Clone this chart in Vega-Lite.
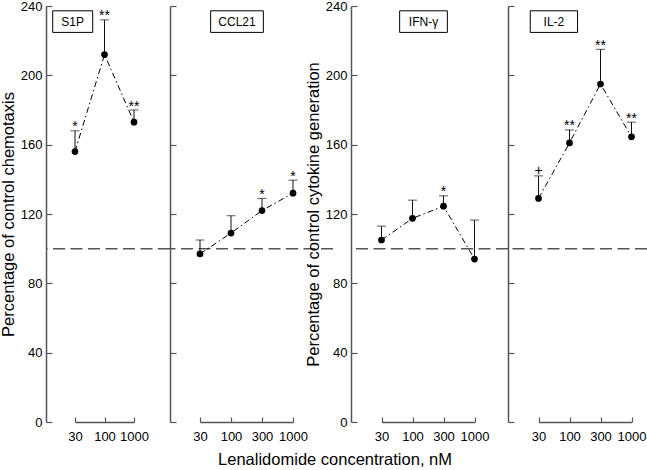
{
  "$schema": "https://vega.github.io/schema/vega-lite/v6.json",
  "padding": {"left": 0, "top": 0, "right": 0, "bottom": 0},
  "config": {
    "font": "Liberation Sans",
    "view": {"stroke": null},
    "axis": {"grid": false, "labelColor": "#000", "titleColor": "#000", "labelFontSize": 13, "titleFontSize": 16.5, "titleFontWeight": "normal", "domainColor": "#555", "tickColor": "#555", "domainWidth": 1.5, "tickWidth": 1.2},
    "axisX": {"tickSize": -5, "labelPadding": 13, "labelAngle": 0},
    "axisY": {"tickSize": -6, "labelPadding": 10, "labelOverlap": "greedy", "labelSeparation": -100, "labelBound": false}
  },
  "title": {"text": "Lenalidomide concentration, nM", "orient": "bottom", "anchor": "middle", "fontSize": 16.5, "fontWeight": "normal", "offset": 9, "dx": 11, "color": "#000"},
  "bounds": "flush",
  "spacing": 0,
  "hconcat": [
    {
      "width": 124, "height": 416,
      "data": {"values": [
        {"conc": 30, "mean": 156, "upper": 168, "sig": "*"},
        {"conc": 100, "mean": 212, "upper": 232, "sig": "**"},
        {"conc": 1000, "mean": 173, "upper": 180, "sig": "**"}
      ]},
      "layer": [
        {"data": {"values": [{"ref": 100}]}, "mark": {"type": "rule", "strokeDash": [12, 5.5], "color": "#555", "strokeWidth": 1.5},
         "encoding": {"y": {"field": "ref", "type": "quantitative", "title": "Percentage of control chemotaxis", "scale": {"domain": [0, 240]}, "axis": {"labelOverlap": "greedy", "labelSeparation": -100, "values": [0, 20, 40, 60, 80, 100, 120, 140, 160, 180, 200, 220, 240]}}}},
        {"mark": {"type": "line", "color": "#000", "strokeWidth": 1, "strokeDash": [6, 3, 1.5, 3]},
         "encoding": {
           "x": {"field": "conc", "type": "ordinal", "title": null, "scale": {"type": "point", "padding": 0, "domain": [30, 100, 1000], "range": [29, 88]}},
           "y": {"field": "mean", "type": "quantitative", "title": "Percentage of control chemotaxis", "scale": {"domain": [0, 240]}, "axis": {"labelOverlap": "greedy", "labelSeparation": -100, "values": [0, 20, 40, 60, 80, 100, 120, 140, 160, 180, 200, 220, 240]}}}},
        {"mark": {"type": "rule", "color": "#111", "strokeWidth": 1},
         "encoding": {"x": {"field": "conc", "type": "ordinal", "title": null, "scale": {"type": "point", "padding": 0, "domain": [30, 100, 1000], "range": [29, 88]}}, "y": {"field": "mean", "type": "quantitative", "title": "Percentage of control chemotaxis"}, "y2": {"field": "upper"}}},
        {"mark": {"type": "tick", "color": "#111", "size": 9, "thickness": 1},
         "encoding": {"x": {"field": "conc", "type": "ordinal", "title": null, "scale": {"type": "point", "padding": 0, "domain": [30, 100, 1000], "range": [29, 88]}}, "y": {"field": "upper", "type": "quantitative", "title": "Percentage of control chemotaxis"}}},
        {"mark": {"type": "circle", "color": "#000", "opacity": 1, "size": 45},
         "encoding": {"x": {"field": "conc", "type": "ordinal", "title": null, "scale": {"type": "point", "padding": 0, "domain": [30, 100, 1000], "range": [29, 88]}}, "y": {"field": "mean", "type": "quantitative", "title": "Percentage of control chemotaxis"}}},
        {"transform": [{"filter": "indexof(datum.sig, '*') >= 0"}],
         "mark": {"type": "text", "fontSize": 14, "dy": 0.5, "baseline": "alphabetic", "color": "#000"},
         "encoding": {"x": {"field": "conc", "type": "ordinal", "title": null, "scale": {"type": "point", "padding": 0, "domain": [30, 100, 1000], "range": [29, 88]}}, "y": {"field": "upper", "type": "quantitative", "title": "Percentage of control chemotaxis"}, "text": {"field": "sig"}}},
        {"data": {"values": [{"label": "S1P"}]},
         "mark": {"type": "point", "shape": "M-1,-0.54H1V0.54H-1Z", "size": 1600, "filled": false, "color": "#000", "strokeWidth": 1, "opacity": 1, "xOffset": -2.3},
         "encoding": {"x": {"datum": 30, "type": "ordinal", "title": null, "scale": {"type": "point", "padding": 0, "domain": [30, 100, 1000], "range": [29, 88]}}, "y": {"datum": 231, "type": "quantitative", "title": "Percentage of control chemotaxis"}}},
        {"data": {"values": [{"label": "S1P"}]},
         "mark": {"type": "text", "fontSize": 12, "baseline": "middle", "align": "center", "color": "#000", "xOffset": -2.3},
         "encoding": {"x": {"datum": 30, "type": "ordinal", "title": null, "scale": {"type": "point", "padding": 0, "domain": [30, 100, 1000], "range": [29, 88]}}, "y": {"datum": 231, "type": "quantitative", "title": "Percentage of control chemotaxis"}, "text": {"field": "label"}}}
      ]
    },
    {
      "width": 163, "height": 416,
      "data": {"values": [
        {"conc": 30, "mean": 97, "upper": 105, "sig": ""},
        {"conc": 100, "mean": 109, "upper": 119, "sig": ""},
        {"conc": 300, "mean": 122, "upper": 129, "sig": "*"},
        {"conc": 1000, "mean": 132, "upper": 139.5, "sig": "*"}
      ]},
      "layer": [
        {"data": {"values": [{"ref": 100}]}, "mark": {"type": "rule", "strokeDash": [12, 5.5], "color": "#555", "strokeWidth": 1.5},
         "encoding": {"y": {"field": "ref", "type": "quantitative", "title": null, "scale": {"domain": [0, 240]}, "axis": {"labels": false, "values": [0, 20, 40, 60, 80, 100, 120, 140, 160, 180, 200, 220, 240]}}}},
        {"mark": {"type": "line", "color": "#000", "strokeWidth": 1, "strokeDash": [6, 3, 1.5, 3]},
         "encoding": {
           "x": {"field": "conc", "type": "ordinal", "title": null, "scale": {"type": "point", "padding": 0, "domain": [30, 100, 300, 1000], "range": [30, 123]}},
           "y": {"field": "mean", "type": "quantitative", "title": null, "scale": {"domain": [0, 240]}, "axis": {"labels": false, "values": [0, 20, 40, 60, 80, 100, 120, 140, 160, 180, 200, 220, 240]}}}},
        {"mark": {"type": "rule", "color": "#111", "strokeWidth": 1},
         "encoding": {"x": {"field": "conc", "type": "ordinal", "title": null, "scale": {"type": "point", "padding": 0, "domain": [30, 100, 300, 1000], "range": [30, 123]}}, "y": {"field": "mean", "type": "quantitative", "title": null}, "y2": {"field": "upper"}}},
        {"mark": {"type": "tick", "color": "#111", "size": 9, "thickness": 1},
         "encoding": {"x": {"field": "conc", "type": "ordinal", "title": null, "scale": {"type": "point", "padding": 0, "domain": [30, 100, 300, 1000], "range": [30, 123]}}, "y": {"field": "upper", "type": "quantitative", "title": null}}},
        {"mark": {"type": "circle", "color": "#000", "opacity": 1, "size": 45},
         "encoding": {"x": {"field": "conc", "type": "ordinal", "title": null, "scale": {"type": "point", "padding": 0, "domain": [30, 100, 300, 1000], "range": [30, 123]}}, "y": {"field": "mean", "type": "quantitative", "title": null}}},
        {"transform": [{"filter": "indexof(datum.sig, '*') >= 0"}],
         "mark": {"type": "text", "fontSize": 14, "dy": 0.5, "baseline": "alphabetic", "color": "#000"},
         "encoding": {"x": {"field": "conc", "type": "ordinal", "title": null, "scale": {"type": "point", "padding": 0, "domain": [30, 100, 300, 1000], "range": [30, 123]}}, "y": {"field": "upper", "type": "quantitative", "title": null}, "text": {"field": "sig"}}},
        {"data": {"values": [{"label": "CCL21"}]},
         "mark": {"type": "point", "shape": "M-1,-0.41H1V0.41H-1Z", "size": 2777, "filled": false, "color": "#000", "strokeWidth": 1, "opacity": 1, "xOffset": 6},
         "encoding": {"x": {"datum": 100, "type": "ordinal", "title": null, "scale": {"type": "point", "padding": 0, "domain": [30, 100, 300, 1000], "range": [30, 123]}}, "y": {"datum": 231, "type": "quantitative", "title": null}}},
        {"data": {"values": [{"label": "CCL21"}]},
         "mark": {"type": "text", "fontSize": 12, "baseline": "middle", "align": "center", "color": "#000", "xOffset": 6},
         "encoding": {"x": {"datum": 100, "type": "ordinal", "title": null, "scale": {"type": "point", "padding": 0, "domain": [30, 100, 300, 1000], "range": [30, 123]}}, "y": {"datum": 231, "type": "quantitative", "title": null}, "text": {"field": "label"}}}
      ]
    },
    {
      "width": 18, "height": 416,
      "data": {"values": []},
      "mark": "point"
    },
    {
      "width": 157, "height": 416,
      "data": {"values": [
        {"conc": 30, "mean": 105, "upper": 113, "sig": ""},
        {"conc": 100, "mean": 117.5, "upper": 128, "sig": ""},
        {"conc": 300, "mean": 124.5, "upper": 130.5, "sig": "*"},
        {"conc": 1000, "mean": 94, "upper": 116.5, "sig": ""}
      ]},
      "layer": [
        {"data": {"values": [{"ref": 100}]}, "mark": {"type": "rule", "strokeDash": [12, 5.5], "color": "#555", "strokeWidth": 1.5},
         "encoding": {"y": {"field": "ref", "type": "quantitative", "title": "Percentage of control cytokine generation", "scale": {"domain": [0, 240]}, "axis": {"labelOverlap": "greedy", "labelSeparation": -100, "values": [0, 20, 40, 60, 80, 100, 120, 140, 160, 180, 200, 220, 240]}}}},
        {"mark": {"type": "line", "color": "#000", "strokeWidth": 1, "strokeDash": [6, 3, 1.5, 3]},
         "encoding": {
           "x": {"field": "conc", "type": "ordinal", "title": null, "scale": {"type": "point", "padding": 0, "domain": [30, 100, 300, 1000], "range": [30.5, 123.5]}},
           "y": {"field": "mean", "type": "quantitative", "title": "Percentage of control cytokine generation", "scale": {"domain": [0, 240]}, "axis": {"labelOverlap": "greedy", "labelSeparation": -100, "values": [0, 20, 40, 60, 80, 100, 120, 140, 160, 180, 200, 220, 240]}}}},
        {"mark": {"type": "rule", "color": "#111", "strokeWidth": 1},
         "encoding": {"x": {"field": "conc", "type": "ordinal", "title": null, "scale": {"type": "point", "padding": 0, "domain": [30, 100, 300, 1000], "range": [30.5, 123.5]}}, "y": {"field": "mean", "type": "quantitative", "title": "Percentage of control cytokine generation"}, "y2": {"field": "upper"}}},
        {"mark": {"type": "tick", "color": "#111", "size": 9, "thickness": 1},
         "encoding": {"x": {"field": "conc", "type": "ordinal", "title": null, "scale": {"type": "point", "padding": 0, "domain": [30, 100, 300, 1000], "range": [30.5, 123.5]}}, "y": {"field": "upper", "type": "quantitative", "title": "Percentage of control cytokine generation"}}},
        {"mark": {"type": "circle", "color": "#000", "opacity": 1, "size": 45},
         "encoding": {"x": {"field": "conc", "type": "ordinal", "title": null, "scale": {"type": "point", "padding": 0, "domain": [30, 100, 300, 1000], "range": [30.5, 123.5]}}, "y": {"field": "mean", "type": "quantitative", "title": "Percentage of control cytokine generation"}}},
        {"transform": [{"filter": "indexof(datum.sig, '*') >= 0"}],
         "mark": {"type": "text", "fontSize": 14, "dy": 0.5, "baseline": "alphabetic", "color": "#000"},
         "encoding": {"x": {"field": "conc", "type": "ordinal", "title": null, "scale": {"type": "point", "padding": 0, "domain": [30, 100, 300, 1000], "range": [30.5, 123.5]}}, "y": {"field": "upper", "type": "quantitative", "title": "Percentage of control cytokine generation"}, "text": {"field": "sig"}}},
        {"data": {"values": [{"label": "IFN-γ"}]},
         "mark": {"type": "point", "shape": "M-1,-0.453H1V0.453H-1Z", "size": 2275, "filled": false, "color": "#000", "strokeWidth": 1, "opacity": 1, "xOffset": 11},
         "encoding": {"x": {"datum": 100, "type": "ordinal", "title": null, "scale": {"type": "point", "padding": 0, "domain": [30, 100, 300, 1000], "range": [30.5, 123.5]}}, "y": {"datum": 231, "type": "quantitative", "title": "Percentage of control cytokine generation"}}},
        {"data": {"values": [{"label": "IFN-γ"}]},
         "mark": {"type": "text", "fontSize": 12, "baseline": "middle", "align": "center", "color": "#000", "xOffset": 11},
         "encoding": {"x": {"datum": 100, "type": "ordinal", "title": null, "scale": {"type": "point", "padding": 0, "domain": [30, 100, 300, 1000], "range": [30.5, 123.5]}}, "y": {"datum": 231, "type": "quantitative", "title": "Percentage of control cytokine generation"}, "text": {"field": "label"}}}
      ]
    },
    {
      "width": 139, "height": 416,
      "data": {"values": [
        {"conc": 30, "mean": 129, "upper": 142, "sig": "+"},
        {"conc": 100, "mean": 161, "upper": 168.5, "sig": "**"},
        {"conc": 300, "mean": 195, "upper": 215, "sig": "**"},
        {"conc": 1000, "mean": 164.5, "upper": 173, "sig": "**"}
      ]},
      "layer": [
        {"data": {"values": [{"ref": 100}]}, "mark": {"type": "rule", "strokeDash": [12, 5.5], "color": "#555", "strokeWidth": 1.5},
         "encoding": {"y": {"field": "ref", "type": "quantitative", "title": null, "scale": {"domain": [0, 240]}, "axis": {"labels": false, "values": [0, 20, 40, 60, 80, 100, 120, 140, 160, 180, 200, 220, 240]}}}},
        {"mark": {"type": "line", "color": "#000", "strokeWidth": 1, "strokeDash": [6, 3, 1.5, 3]},
         "encoding": {
           "x": {"field": "conc", "type": "ordinal", "title": null, "scale": {"type": "point", "padding": 0, "domain": [30, 100, 300, 1000], "range": [30.5, 123.5]}},
           "y": {"field": "mean", "type": "quantitative", "title": null, "scale": {"domain": [0, 240]}, "axis": {"labels": false, "values": [0, 20, 40, 60, 80, 100, 120, 140, 160, 180, 200, 220, 240]}}}},
        {"mark": {"type": "rule", "color": "#111", "strokeWidth": 1},
         "encoding": {"x": {"field": "conc", "type": "ordinal", "title": null, "scale": {"type": "point", "padding": 0, "domain": [30, 100, 300, 1000], "range": [30.5, 123.5]}}, "y": {"field": "mean", "type": "quantitative", "title": null}, "y2": {"field": "upper"}}},
        {"mark": {"type": "tick", "color": "#111", "size": 9, "thickness": 1},
         "encoding": {"x": {"field": "conc", "type": "ordinal", "title": null, "scale": {"type": "point", "padding": 0, "domain": [30, 100, 300, 1000], "range": [30.5, 123.5]}}, "y": {"field": "upper", "type": "quantitative", "title": null}}},
        {"mark": {"type": "circle", "color": "#000", "opacity": 1, "size": 45},
         "encoding": {"x": {"field": "conc", "type": "ordinal", "title": null, "scale": {"type": "point", "padding": 0, "domain": [30, 100, 300, 1000], "range": [30.5, 123.5]}}, "y": {"field": "mean", "type": "quantitative", "title": null}}},
        {"transform": [{"filter": "indexof(datum.sig, '*') >= 0"}],
         "mark": {"type": "text", "fontSize": 14, "dy": 0.5, "baseline": "alphabetic", "color": "#000"},
         "encoding": {"x": {"field": "conc", "type": "ordinal", "title": null, "scale": {"type": "point", "padding": 0, "domain": [30, 100, 300, 1000], "range": [30.5, 123.5]}}, "y": {"field": "upper", "type": "quantitative", "title": null}, "text": {"field": "sig"}}},
        {"transform": [{"filter": "datum.sig === '+'"}],
         "mark": {"type": "text", "fontSize": 14, "dy": -1, "baseline": "alphabetic", "color": "#000"},
         "encoding": {"x": {"field": "conc", "type": "ordinal", "title": null, "scale": {"type": "point", "padding": 0, "domain": [30, 100, 300, 1000], "range": [30.5, 123.5]}}, "y": {"field": "upper", "type": "quantitative", "title": null}, "text": {"field": "sig"}}},
        {"data": {"values": [{"label": "IL-2"}]},
         "mark": {"type": "point", "shape": "M-1,-0.457H1V0.457H-1Z", "size": 2237, "filled": false, "color": "#000", "strokeWidth": 1, "opacity": 1, "xOffset": 15.4},
         "encoding": {"x": {"datum": 30, "type": "ordinal", "title": null, "scale": {"type": "point", "padding": 0, "domain": [30, 100, 300, 1000], "range": [30.5, 123.5]}}, "y": {"datum": 231, "type": "quantitative", "title": null}}},
        {"data": {"values": [{"label": "IL-2"}]},
         "mark": {"type": "text", "fontSize": 12, "baseline": "middle", "align": "center", "color": "#000", "xOffset": 15.4},
         "encoding": {"x": {"datum": 30, "type": "ordinal", "title": null, "scale": {"type": "point", "padding": 0, "domain": [30, 100, 300, 1000], "range": [30.5, 123.5]}}, "y": {"datum": 231, "type": "quantitative", "title": null}, "text": {"field": "label"}}}
      ]
    }
  ]
}
